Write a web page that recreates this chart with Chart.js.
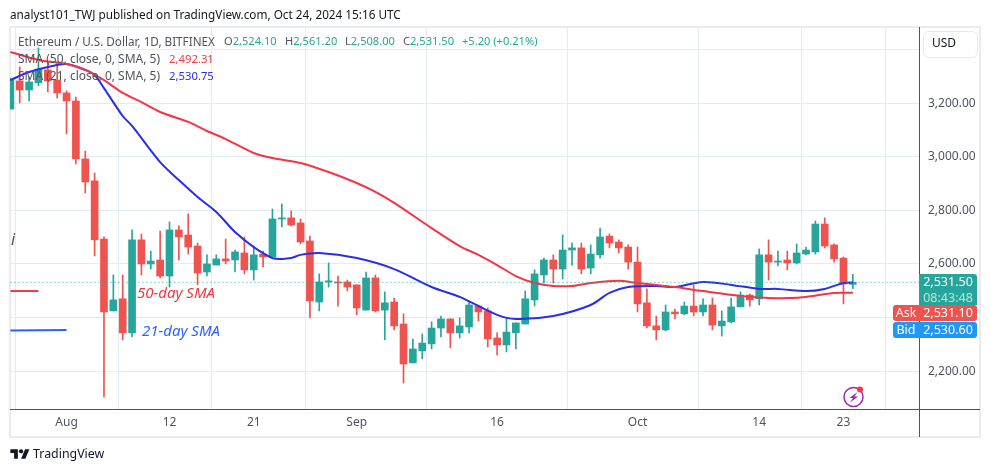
<!DOCTYPE html>
<html>
<head>
<meta charset="utf-8">
<title>ETHUSD</title>
<script src="https://cdn.jsdelivr.net/npm/chart.js@4"></script>
<style>
  html, body { margin: 0; padding: 0; background: #fff; width: 991px; height: 472px; overflow: hidden; font-family: "Noto Sans", sans-serif; }
  #wrap { position: relative; width: 991px; height: 472px; }
  canvas { position: absolute; left: 0; top: 0; }
  .t { position: absolute; white-space: nowrap; line-height: 16px; }
  .leg { font-size: 12px; color: #50535e; }
  .ohlc { font-size: 11.1px; }
  .up { color: #26a69a; }
  .tag { position: absolute; color: #fff; font-size: 12.5px; text-align: center; }
</style>
</head>
<body>
<div id="wrap">
  <canvas id="priceChart" width="991" height="472"></canvas>
  <div class="t" style="left:10px;top:6px;font-size:11.75px;color:#131722">analyst101_TWJ published on TradingView.com, Oct 24, 2024 15:16 UTC</div>
  <div class="t leg" style="left:18px;top:33px;font-size:11.7px">Ethereum / U.S. Dollar, 1D, BITFINEX</div>
  <div class="t leg ohlc" style="left:224px;top:33px">O<span class="up">2,524.10</span></div>
  <div class="t leg ohlc" style="left:285px;top:33px">H<span class="up">2,561.20</span></div>
  <div class="t leg ohlc" style="left:345px;top:33px">L<span class="up">2,508.00</span></div>
  <div class="t leg ohlc" style="left:403px;top:33px">C<span class="up">2,531.50</span></div>
  <div class="t leg ohlc up" style="left:462px;top:33px">+5.20 (+0.21%)</div>
  <div class="t leg" style="left:18px;top:51px">SMA (50, close, 0, SMA, 5)</div>
  <div class="t leg" style="left:169px;top:51px;font-size:11.3px;color:#f23645">2,492.31</div>
  <div class="t leg" style="left:18px;top:68px">SMA (21, close, 0, SMA, 5)</div>
  <div class="t leg" style="left:169px;top:68px;font-size:11.3px;color:#2a2ee8">2,530.75</div>
  <div class="t" style="left:11px;top:231px;font-size:16px;font-style:italic;color:#50535e">i</div>
  <div class="t" style="left:137px;top:284px;font-size:15px;font-style:italic;color:#f23645">50-day SMA</div>
  <div class="t" style="left:142px;top:322px;font-size:15px;font-style:italic;color:#2962ff">21-day SMA</div>
  <div style="position:absolute;left:923px;top:31px;width:53px;height:25px;border:1px solid #e6e9ef;border-radius:6px"></div>
  <div class="t" style="left:932px;top:35px;font-size:12px;color:#131722">USD</div>
  <div class="tag" style="left:919px;top:274px;width:58px;height:31px;background:#26a69a;border-radius:0 3px 0 0">
    <div style="line-height:16px">2,531.50</div><div style="line-height:15px;color:#bde4df">08:43:48</div>
  </div>
  <div class="tag" style="left:893px;top:305px;width:26px;height:16px;line-height:16px;background:#ef5350;border-radius:3px 0 0 3px">Ask</div>
  <div class="tag" style="left:919px;top:305px;width:58px;height:16px;line-height:16px;background:#ef5350;border-radius:0 3px 3px 0">2,531.10</div>
  <div class="tag" style="left:893px;top:322px;width:26px;height:16px;line-height:16px;background:#2196f3;border-radius:3px 0 0 3px">Bid</div>
  <div class="tag" style="left:919px;top:322px;width:58px;height:16px;line-height:16px;background:#2196f3;border-radius:0 3px 3px 0">2,530.60</div>
  <svg style="position:absolute;left:842px;top:385px" width="24" height="24" viewBox="0 0 24 24">
    <circle cx="11.5" cy="12" r="9.5" fill="none" stroke="#9c27b0" stroke-width="1.5"/>
    <path d="M15.5 7 L7.5 13 H11 L8 17.5 L16 11.5 H12.5 Z" fill="#9c27b0"/>
    <circle cx="18" cy="4.5" r="3" fill="#f23645"/>
  </svg>
  <svg style="position:absolute;left:10px;top:447px" width="20" height="15" viewBox="0 0 36 28">
    <path d="M14 22H7V11H0V4h14v18zM28 22h-8l7.5-18h8L28 22z" fill="#131722"/>
    <circle cx="20" cy="8" r="4" fill="#131722"/>
  </svg>
  <div class="t" style="left:33px;top:446px;font-size:12.4px;color:#131722">TradingView</div>
</div>
<script>
// Jul 26 2024 is day -6, Aug 1 is day 0
const firstDay = -6;
const opens = [3178,3283,3249,3276,3324,3286,3238,3208,2992,2910,2693,2425,2470,2343,2690,2600,2615,2555,2727,2708,2667,2570,2596,2619,2615,2641,2578,2637,2626,2768,2772,2753,2686,2458,2533,2533,2533,2522,2428,2548,2428,2458,2376,2231,2276,2302,2361,2395,2343,2365,2443,2425,2324,2298,2343,2376,2466,2559,2615,2581,2652,2660,2585,2634,2704,2682,2663,2607,2455,2369,2354,2421,2414,2443,2421,2447,2369,2384,2440,2484,2470,2634,2607,2615,2604,2637,2645,2749,2671,2622,2524.1];
const highs = [3293,3335,3298,3406,3353,3353,3246,3223,3021,2939,2701,2559,2559,2727,2712,2648,2723,2757,2742,2787,2678,2634,2634,2693,2652,2701,2667,2648,2805,2824,2798,2768,2704,2563,2604,2555,2540,2522,2570,2559,2496,2473,2414,2320,2339,2384,2406,2395,2399,2462,2447,2436,2343,2399,2380,2499,2578,2622,2634,2708,2678,2678,2671,2734,2712,2690,2671,2663,2507,2406,2447,2432,2458,2522,2470,2473,2425,2473,2496,2488,2656,2690,2648,2648,2675,2663,2760,2772,2675,2626,2561.2];
const lows = [3178,3201,3208,3264,3242,3219,3085,2973,2865,2630,2104,2425,2317,2328,2559,2581,2548,2514,2615,2637,2522,2555,2596,2600,2570,2563,2540,2589,2626,2738,2742,2675,2399,2425,2514,2443,2499,2410,2428,2421,2317,2354,2156,2231,2246,2283,2328,2287,2324,2343,2387,2290,2261,2272,2283,2376,2443,2529,2529,2544,2596,2563,2563,2622,2660,2641,2581,2421,2361,2317,2350,2395,2410,2406,2406,2354,2331,2380,2440,2443,2447,2540,2593,2578,2600,2634,2637,2660,2607,2451,2508];
const closes = [3286,3249,3279,3327,3283,3238,3208,2992,2906,2690,2421,2466,2343,2690,2600,2611,2555,2727,2701,2663,2566,2600,2619,2611,2645,2578,2634,2626,2768,2772,2745,2682,2462,2533,2537,2529,2514,2436,2548,2425,2455,2369,2227,2283,2305,2361,2395,2343,2369,2447,2421,2320,2298,2346,2380,2470,2563,2615,2581,2652,2660,2581,2637,2701,2678,2660,2607,2451,2369,2354,2421,2414,2443,2421,2447,2372,2387,2440,2484,2466,2634,2607,2611,2604,2641,2652,2749,2667,2619,2525,2531.5];

const sma50Days = [-6,-3,0,2,4,6,8,10,13,15,17,20,22,25,28,31,33,35,39,42,44,46,48,50,52,54,56,59,61,63,65,68,72,75,77,79,82,84];
const sma50Values = [3391,3361,3346,3324,3286,3238,3204,3167,3130,3096,3066,3014,2995,2977,2943,2902,2869,2828,2734,2667,2634,2596,2555,2529,2518,2518,2529,2537,2529,2522,2514,2499,2481,2473,2473,2477,2492,2492.31];
const sma21Days = [-6,-4,-2,0,2,3,4,6,7,10,12,14,16,18,20,22,23,24,25,27,31,35,39,42,46,48,52,56,58,60,63,65,68,71,74,76,79,81,83,84];
const sma21Values = [3286,3316,3335,3346,3324,3305,3256,3152,3115,2980,2913,2850,2794,2719,2663,2622,2619,2622,2634,2641,2622,2581,2514,2477,2410,2395,2406,2447,2492,2514,2518,2514,2533,2522,2507,2507,2499,2507,2529,2530.75];

// hand drawn strokes next to the 50-day / 21-day notes
const note50Days = [-6,-3];
const note50Values = [2499,2499];
const note21Days = [-6,0];
const note21Values = [2352,2354];

const lastPrice = 2531.5;
const tickDays = [0,11,20,31,46,61,74,83];
const tickLabels = ['Aug','12','21','Sep','16','Oct','14','23'];
const priceTicks = [2200,2400,2600,2800,3000,3200,3400];
const hiddenPriceLabels = [2400,3400];

const upColor = '#26a69a';
const downColor = '#ef5350';
const gridColor = '#e4ebf3';
const axisColor = '#50535e';

const days = closes.map((_, i) => firstDay + i);
const candleColors = closes.map((c, i) => (c >= opens[i] ? upColor : downColor));
const pts = (xs, ys) => xs.map((x, i) => ({ x, y: ys[i] }));

const framePlugin = {
  id: 'frame',
  beforeDraw(c) {
    const g = c.ctx;
    g.save();
    g.strokeStyle = '#e8ebf0';
    g.lineWidth = 2;
    g.strokeRect(10, 27, 970, 410);
    g.restore();
  },
  afterDraw(c) {
    const g = c.ctx;
    const { top, bottom, right, left } = c.chartArea;
    g.save();
    g.strokeStyle = axisColor;
    g.lineWidth = 1;
    g.beginPath();
    g.moveTo(left, Math.round(bottom) + 0.5);
    g.lineTo(980, Math.round(bottom) + 0.5);
    g.moveTo(Math.round(right) + 0.5, top);
    g.lineTo(Math.round(right) + 0.5, 437);
    g.stroke();
    g.restore();
  }
};

new Chart(document.getElementById('priceChart'), {
  data: {
    datasets: [
      { type: 'line', data: pts(sma50Days, sma50Values), borderColor: '#f23645', borderWidth: 2, pointRadius: 0, tension: 0.3, order: 1 },
      { type: 'line', data: pts(sma21Days, sma21Values), borderColor: '#2a2ee8', borderWidth: 2, pointRadius: 0, tension: 0.3, order: 1 },
      { type: 'line', data: pts(note50Days, note50Values), borderColor: '#f23645', borderWidth: 2, pointRadius: 0, order: 1 },
      { type: 'line', data: pts(note21Days, note21Values), borderColor: '#2962ff', borderWidth: 2, pointRadius: 0, order: 1 },
      { type: 'line', data: pts([firstDay, 92], [lastPrice, lastPrice]), borderColor: upColor, borderWidth: 1, borderDash: [1, 3], pointRadius: 0, order: 0 },
      { type: 'bar', data: days.map((d, i) => ({ x: d, y: [Math.min(opens[i], closes[i]), Math.max(opens[i], closes[i])] })), backgroundColor: candleColors, barThickness: 7, minBarLength: 1, grouped: false, order: 2 },
      { type: 'bar', data: days.map((d, i) => ({ x: d, y: [lows[i], highs[i]] })), backgroundColor: candleColors, barThickness: 1, grouped: false, order: 3 }
    ]
  },
  options: {
    responsive: false,
    animation: false,
    layout: { padding: { top: 27, left: 10, right: 0, bottom: 0 } },
    plugins: { legend: { display: false }, tooltip: { enabled: false } },
    scales: {
      x: {
        type: 'linear',
        min: -6.04,
        max: 91.07,
        offset: false,
        afterBuildTicks: (s) => { s.ticks = tickDays.map((v) => ({ value: v })); },
        afterFit: (s) => { s.height = 63; },
        ticks: {
          autoSkip: false, maxRotation: 0, padding: 6, color: '#50535e',
          font: { family: '"Noto Sans"', size: 12 },
          callback: (v) => tickLabels[tickDays.indexOf(v)]
        },
        grid: { color: gridColor, drawTicks: false },
        border: { display: false }
      },
      y: {
        position: 'right',
        min: 2059,
        max: 3484,
        afterBuildTicks: (s) => { s.ticks = priceTicks.map((v) => ({ value: v })); },
        afterFit: (s) => { s.width = 72; },
        ticks: {
          padding: 9, color: '#50535e',
          font: { family: '"Noto Sans"', size: 12 },
          callback: (v) => (hiddenPriceLabels.includes(v) ? '' : v.toLocaleString('en-US', { minimumFractionDigits: 2 }))
        },
        grid: { color: gridColor, drawTicks: false },
        border: { display: false }
      }
    }
  },
  plugins: [framePlugin]
});
</script>
</body>
</html>
